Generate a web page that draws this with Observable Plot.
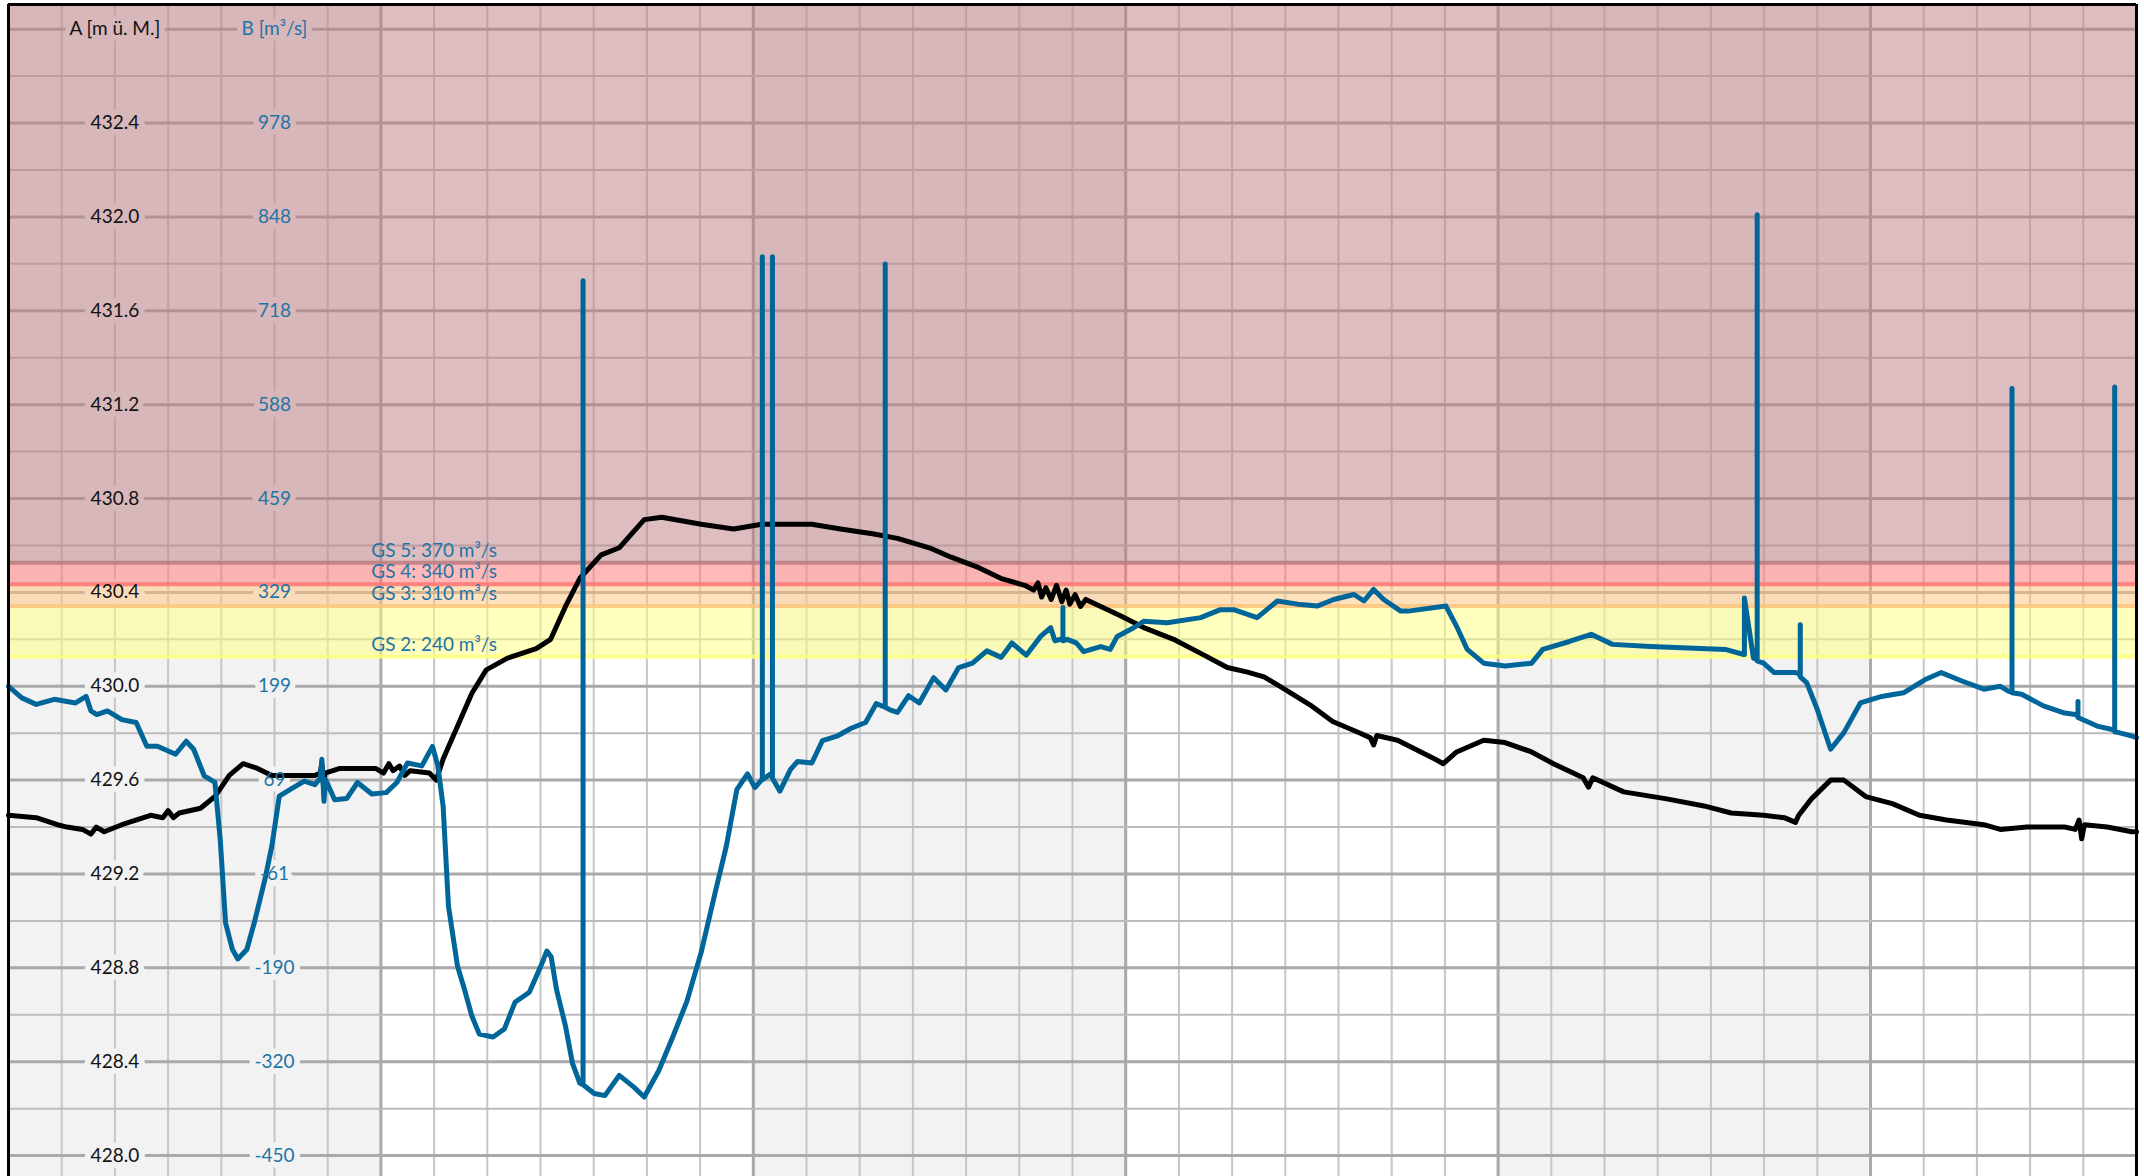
<!DOCTYPE html>
<html>
<head>
<meta charset="utf-8">
<script src="https://cdn.jsdelivr.net/npm/d3@7"></script>
<script src="https://cdn.jsdelivr.net/npm/@observablehq/plot@0.6"></script>
<style>
html, body { margin: 0; padding: 0; background: #fff; overflow: hidden; }
#chart svg { display: block; }
</style>
</head>
<body>
<div id="chart"></div>
<script>
// ---- tick labels ----
const aTicks = [428.0, 428.4, 428.8, 429.2, 429.6, 430.0, 430.4, 430.8, 431.2, 431.6, 432.0, 432.4];
const bTicks = [-450, -320, -190, -61, 69, 199, 329, 459, 588, 718, 848, 978];
const aTitle = "A [m ü. M.]";
const bTitle = "B [m³/s]";
const headerLevel = 432.8;

// ---- thresholds (m³/s) ----
const gsLevels = [370, 340, 310, 240];
const gsNames = ["GS 5", "GS 4", "GS 3", "GS 2"];

// ---- series A (black, m ü. M.) ----
const blackDays = [0.00, 0.52, 0.92, 1.10, 1.39, 1.55, 1.65, 1.80, 2.13, 2.67, 2.90, 3.00, 3.10, 3.21, 3.61, 3.88,
  4.15, 4.41, 4.68, 4.95, 5.36, 5.76, 5.86, 5.89, 5.92, 5.95, 6.23, 6.56, 6.90, 7.05, 7.15, 7.23, 7.35, 7.45, 7.55,
  7.91, 8.04, 8.17, 8.44, 8.71, 8.98, 9.38, 9.92, 10.19, 10.47, 10.74, 11.14, 11.48, 11.95, 12.28, 13.02, 13.63,
  14.16, 15.10, 15.64, 16.24, 16.71, 17.31, 17.72, 18.19, 18.65, 19.10, 19.27, 19.35, 19.42, 19.50, 19.60, 19.70,
  19.80, 19.88, 19.95, 20.05, 20.15, 20.25, 20.53, 20.90, 21.34, 21.90, 22.41, 22.91, 23.29, 23.60, 23.97, 24.47,
  24.89, 25.41, 25.60, 25.66, 25.72, 26.11, 26.81, 26.97, 27.22, 27.73, 28.13, 28.63, 29.04, 29.60, 29.70, 29.78,
  30.36, 31.17, 31.87, 32.38, 32.99, 33.38, 33.59, 33.65, 33.89, 34.25, 34.50, 34.91, 35.41, 35.92, 36.43, 37.13,
  37.44, 37.94, 38.65, 38.85, 38.92, 38.97, 39.02, 39.45, 39.91, 40.00];
const blackA = [429.45, 429.44, 429.41, 429.40, 429.39, 429.37, 429.40, 429.38, 429.41, 429.45, 429.44, 429.47, 429.44, 429.46, 429.48, 429.53,
  429.62, 429.67, 429.65, 429.62, 429.62, 429.62, 429.63, 429.67, 429.58, 429.63, 429.65, 429.65, 429.65, 429.63, 429.67, 429.64, 429.66, 429.62, 429.64,
  429.63, 429.60, 429.69, 429.83, 429.97, 430.07, 430.12, 430.16, 430.20, 430.34, 430.46, 430.56, 430.59, 430.71, 430.72, 430.69, 430.67,
  430.69, 430.69, 430.67, 430.65, 430.63, 430.59, 430.55, 430.51, 430.46, 430.43, 430.41, 430.44, 430.38, 430.42, 430.37, 430.43,
  430.36, 430.41, 430.35, 430.39, 430.34, 430.37, 430.34, 430.30, 430.25, 430.20, 430.14, 430.08, 430.06, 430.04, 429.99, 429.92,
  429.85, 429.80, 429.78, 429.75, 429.79, 429.77, 429.69, 429.67, 429.72, 429.77, 429.76, 429.72, 429.67, 429.61, 429.57, 429.61,
  429.55, 429.52, 429.49, 429.46, 429.45, 429.44, 429.42, 429.45, 429.52, 429.60, 429.60, 429.53, 429.50, 429.45, 429.43, 429.41,
  429.39, 429.40, 429.40, 429.39, 429.43, 429.35, 429.41, 429.40, 429.38, 429.38];

// ---- series B (blue, m³/s) ----
const blueDays = [0.00, 0.25, 0.52, 0.86, 1.26, 1.46, 1.55, 1.66, 1.86, 2.13, 2.40, 2.60, 2.80, 3.14, 3.34, 3.48, 3.68, 3.88,
  3.98, 4.08, 4.21, 4.31, 4.48, 4.62, 4.82, 4.95, 5.09, 5.29, 5.56, 5.76, 5.86, 5.89, 5.93, 5.96, 6.13, 6.36, 6.56, 6.83,
  7.10, 7.30, 7.50, 7.77, 7.97, 8.07, 8.17, 8.27, 8.44, 8.57, 8.71, 8.85, 9.11, 9.32, 9.52, 9.79, 10.00, 10.12, 10.20,
  10.30, 10.47, 10.60, 10.74, 10.80, 10.80, 10.80, 11.01, 11.21, 11.48, 11.75, 11.95, 12.22, 12.48, 12.75, 13.02, 13.29,
  13.49, 13.69, 13.89, 14.03, 14.16, 14.17, 14.17, 14.17, 14.33, 14.36, 14.36, 14.36, 14.50, 14.70, 14.83, 15.10, 15.30,
  15.57, 15.84, 16.11, 16.31, 16.48, 16.48, 16.48, 16.58, 16.71, 16.92, 17.12, 17.39, 17.62, 17.86, 18.12, 18.39, 18.66,
  18.86, 19.13, 19.40, 19.59, 19.67, 19.82, 19.82, 19.82, 19.90, 20.07, 20.21, 20.53, 20.71, 20.84, 21.15, 21.34, 21.78,
  22.41, 22.78, 23.03, 23.47, 23.85, 24.29, 24.60, 24.91, 25.29, 25.48, 25.66, 25.85, 26.17, 26.31, 27.02, 27.22, 27.42,
  27.73, 28.13, 28.63, 28.84, 29.34, 29.75, 30.15, 30.86, 31.57, 32.27, 32.62, 32.63, 32.63, 32.80, 32.87, 32.87, 32.87,
  32.99, 33.19, 33.59, 33.68, 33.68, 33.68, 33.80, 34.00, 34.25, 34.50, 34.81, 35.21, 35.62, 36.02, 36.33, 36.73, 37.13,
  37.44, 37.60, 37.66, 37.66, 37.66, 37.84, 38.25, 38.65, 38.85, 38.90, 38.90, 38.90, 39.26, 39.50, 39.59, 39.59, 39.59,
  39.67, 39.92, 40.00];
const blueB = [199, 183, 174, 181, 176, 185, 165, 160, 165, 153, 149, 116, 116, 105, 123, 112, 75, 66,
  -13, -128, -165, -178, -165, -128, -68, -22, 47, 56, 68, 63, 72, 98, 40, 70, 42, 44, 66, 50,
  52, 66, 93, 89, 116, 89, 33, -105, -188, -220, -257, -282, -286, -275, -238, -224, -189, -167, -175,
  -220, -271, -322, -350, -352, 760, -352, -364, -367, -339, -355, -369, -333, -287, -237, -169, -84,
  -23, 56, 78, 59, 70, 70, 793, 70, 78, 76, 793, 72, 54, 84, 95, 93, 124,
  130, 141, 149, 175, 170, 783, 170, 166, 163, 186, 176, 211, 194, 225, 231, 248, 239,
  259, 242, 268, 280, 262, 265, 308, 262, 264, 259, 247, 254, 250, 268, 280, 289, 287,
  294, 305, 305, 294, 317, 312, 310, 319, 326, 317, 333, 319, 303, 303, 310, 282, 250,
  231, 227, 231, 250, 261, 271, 257, 254, 252, 250, 243, 243, 321, 238, 236, 851, 234,
  231, 218, 218, 216, 284, 212, 204, 167, 112, 135, 176, 185, 190, 208, 218, 206, 195,
  199, 192, 192, 611, 190, 188, 172, 162, 160, 158, 178, 156, 144, 140, 138, 613, 136,
  135, 130, 128];

// ---- styling ----
const bandFill = ["#bb7b7f", "#ff7373", "#ffc37d", "#ffff7d"];
const blueLine = "#00669a";
const blueText = "#1f74a6";
const fontSize = 19;

// B values share the A axis through the paired tick labels
const bToA = d3.scaleLinear()
  .domain([bTicks[0], bTicks[bTicks.length - 1]])
  .range([aTicks[0], aTicks[aTicks.length - 1]]);

const xDomain = [0, 40];
const yDomain = [427.911, 432.905];

const blackRows = blackDays.map((d, i) => ({day: d, a: blackA[i]}));
const blueRows = blueDays.map((d, i) => ({day: d, a: bToA(blueB[i])}));

const dayGrid = d3.range(xDomain[0], xDomain[1] + 1);
const weekGrid = dayGrid.filter(d => d % 7 === 0);
const shadedWeeks = d3.range(0, xDomain[1], 14);
const levelGrid = d3.range(0, 25).map(i => +(aTicks[0] + 0.2 * i).toFixed(1));
const levelMinor = levelGrid.filter((d, i) => i % 2 === 1);
const levelMajor = levelGrid.filter((d, i) => i % 2 === 0);

const bands = gsLevels.map((v, i) => ({
  lo: bToA(v),
  hi: i === 0 ? yDomain[1] : bToA(gsLevels[i - 1]),
  fill: bandFill[i],
  label: `${gsNames[i]}: ${v} m³/s`
}));

const aLabels = aTicks.map(v => ({y: v, text: v.toFixed(1)}));
const bLabels = bTicks.map((v, i) => ({y: aTicks[i], text: String(v)}));
const aCol = 2, bCol = 5, gsCol = 8;

const halo = {fontSize, fill: "#f2f2f2", stroke: "#f2f2f2", strokeWidth: 12};

const chart = Plot.plot({
  width: 2144,
  height: 1176,
  marginTop: 4,
  marginBottom: 0,
  marginLeft: 8,
  marginRight: 8,
  x: {domain: xDomain, axis: null},
  y: {domain: yDomain, axis: null},
  color: {type: "identity"},
  style: {fontFamily: "Lato, 'Noto Sans', sans-serif", background: "#fff"},
  marks: [
    // alternating week shading
    Plot.rect(shadedWeeks, {x1: d => d, x2: d => d + 7, y1: () => yDomain[0], y2: () => yDomain[1], fill: "#f2f2f2"}),
    // grid
    Plot.ruleX(dayGrid, {stroke: "#c6c6c6", strokeWidth: 2}),
    Plot.ruleX(weekGrid, {stroke: "#a9a9a9", strokeWidth: 3}),
    Plot.ruleY(levelMinor, {stroke: "#bcbcbc", strokeWidth: 2}),
    Plot.ruleY(levelMajor, {stroke: "#a9a9a9", strokeWidth: 3}),
    // label backgrounds (under the bands so they are tinted)
    Plot.text(aLabels, {x: () => aCol, y: "y", text: "text", ...halo}),
    Plot.text(bLabels, {x: () => bCol, y: "y", text: "text", ...halo}),
    Plot.text([aTitle], {x: () => aCol, y: () => headerLevel, text: d => d, ...halo}),
    Plot.text([bTitle], {x: () => bCol, y: () => headerLevel, text: d => d, ...halo}),
    // threshold bands
    Plot.rect(bands, {x1: () => xDomain[0], x2: () => xDomain[1], y1: "lo", y2: "hi", fill: "fill", fillOpacity: 0.5}),
    Plot.ruleY(bands, {y: "lo", stroke: "fill", strokeOpacity: 0.85, strokeWidth: 4}),
    // series
    Plot.line(blackRows, {x: "day", y: "a", stroke: "#000", strokeWidth: 5}),
    Plot.line(blueRows, {x: "day", y: "a", stroke: blueLine, strokeWidth: 5}),
    // labels
    Plot.text(aLabels, {x: () => aCol, y: "y", text: "text", fontSize, fill: "#111"}),
    Plot.text(bLabels, {x: () => bCol, y: "y", text: "text", fontSize, fill: blueText}),
    Plot.text([aTitle], {x: () => aCol, y: () => headerLevel, text: d => d, fontSize, fill: "#111"}),
    Plot.text([bTitle], {x: () => bCol, y: () => headerLevel, text: d => d, fontSize, fill: blueText}),
    Plot.text(bands, {x: () => gsCol, y: "lo", text: "label", dy: -12, fontSize, fill: blueText}),
    // frame (left, right, top)
    Plot.ruleX(xDomain, {stroke: "#000", strokeWidth: 3}),
    Plot.ruleY([yDomain[1]], {stroke: "#000", strokeWidth: 3})
  ]
});
document.getElementById("chart").append(chart);
</script>
</body>
</html>
